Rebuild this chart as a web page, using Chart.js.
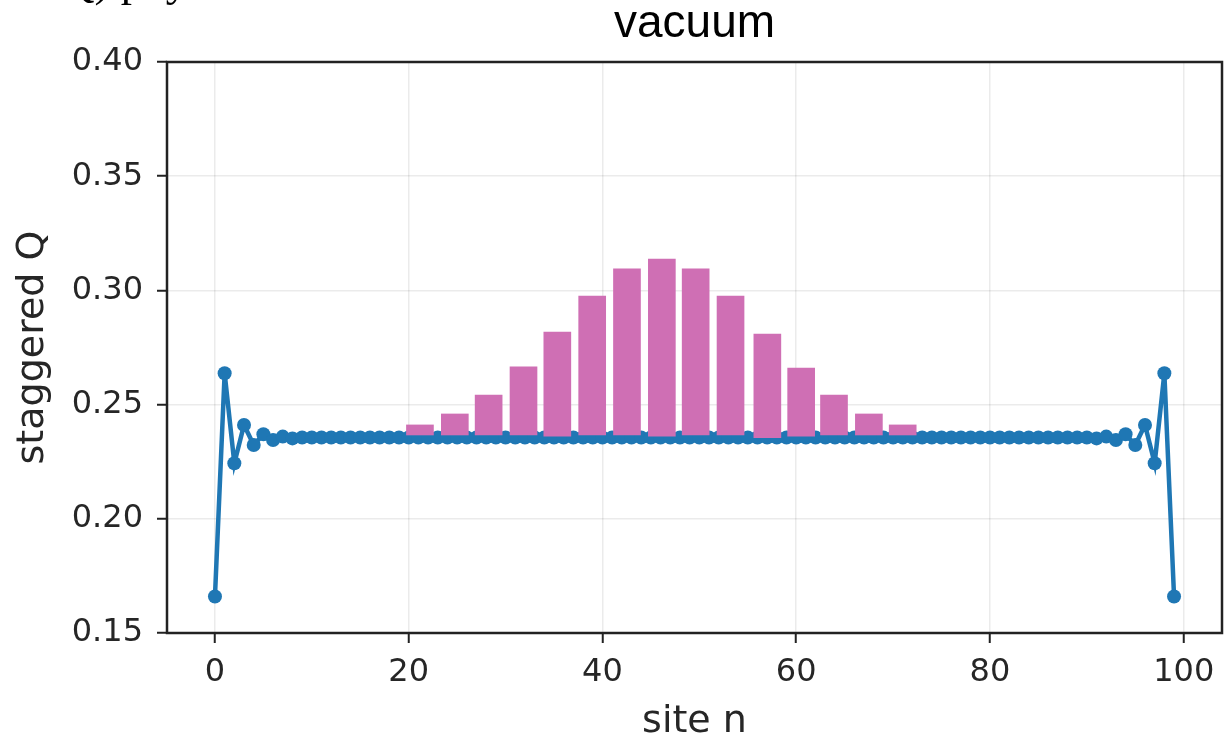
<!DOCTYPE html>
<html>
<head>
<meta charset="utf-8">
<script src="https://cdn.jsdelivr.net/npm/chart.js@4/dist/chart.umd.min.js"></script>
<style>
  html, body { margin: 0; padding: 0; background: #ffffff; }
  #wrap { width: 1229px; height: 737px; position: relative; }
</style>
</head>
<body>
<div id="wrap"><canvas id="c" width="1229" height="737"></canvas></div>
<script>
// staggered charge per lattice site (vacuum state, 100 sites)
const chargeValues = [
  0.1660, 0.2637, 0.2243, 0.2411, 0.2323, 0.2370, 0.2345, 0.2360, 0.2352, 0.2356,
  0.2356, 0.2356, 0.2356, 0.2356, 0.2356, 0.2356, 0.2356, 0.2356, 0.2356, 0.2356,
  0.2356, 0.2356, 0.2356, 0.2356, 0.2356, 0.2356, 0.2356, 0.2356, 0.2356, 0.2356,
  0.2356, 0.2356, 0.2356, 0.2356, 0.2356, 0.2356, 0.2356, 0.2356, 0.2356, 0.2356,
  0.2356, 0.2356, 0.2356, 0.2356, 0.2356, 0.2356, 0.2356, 0.2356, 0.2356, 0.2356,
  0.2356, 0.2356, 0.2356, 0.2356, 0.2356, 0.2356, 0.2356, 0.2356, 0.2356, 0.2356,
  0.2356, 0.2356, 0.2356, 0.2356, 0.2356, 0.2356, 0.2356, 0.2356, 0.2356, 0.2356,
  0.2356, 0.2356, 0.2356, 0.2356, 0.2356, 0.2356, 0.2356, 0.2356, 0.2356, 0.2356,
  0.2356, 0.2356, 0.2356, 0.2356, 0.2356, 0.2356, 0.2356, 0.2356, 0.2356, 0.2356,
  0.2356, 0.2352, 0.2360, 0.2345, 0.2370, 0.2323, 0.2411, 0.2243, 0.2637, 0.1660
];

// excess-charge bars (floating from base to top)
const barSites = [21.16, 24.76, 28.25, 31.85, 35.34, 38.94, 42.53, 46.13,
                  49.62, 53.22, 57.02, 60.51, 63.90, 67.50, 70.99];
const barBase  = [0.2367, 0.2367, 0.2367, 0.2367, 0.2362, 0.2367, 0.2367, 0.2362,
                  0.2367, 0.2367, 0.2355, 0.2362, 0.2367, 0.2367, 0.2367];
const barTop   = [0.2411, 0.2459, 0.2542, 0.2665, 0.2818, 0.2975, 0.3094, 0.3137,
                  0.3094, 0.2975, 0.2809, 0.2660, 0.2542, 0.2459, 0.2411];

const xTicks = [0, 20, 40, 60, 80, 100];
const yTicks = [0.15, 0.20, 0.25, 0.30, 0.35, 0.40];

const titleText = 'vacuum';
const xTitle = 'site n';
const yTitle = 'staggered Q';
const headerFragment = 'Q) phy';

const lineData = chargeValues.map((v, i) => ({ x: i, y: v }));
const barData = barSites.map((s, i) => ({ x: s, y: [barBase[i], barTop[i]] }));

const ink = '#262626';
const tickFont = { family: '"DejaVu Sans", sans-serif', size: 32 };

const gridStyle = {
  offset: false,
  color: 'rgba(0,0,0,0.08)',
  lineWidth: 1.5,
  drawTicks: true,
  tickLength: 10,
  tickColor: '#222222',
  tickWidth: 2
};

const framePlugin = {
  id: 'frame',
  beforeDraw(chart) {
    const ctx = chart.ctx;
    ctx.save();
    ctx.fillStyle = '#ffffff';
    ctx.fillRect(0, 0, chart.width, chart.height);
    ctx.restore();
  },
  afterDatasetsDraw(chart) {
    const { ctx, chartArea: a } = chart;
    ctx.save();
    ctx.strokeStyle = '#222222';
    ctx.lineWidth = 2.5;
    ctx.strokeRect(a.left, a.top, a.right - a.left, a.bottom - a.top);
    ctx.restore();
  },
  afterDraw(chart) {
    // running text of the surrounding page, cut at the top edge
    const ctx = chart.ctx;
    ctx.save();
    ctx.fillStyle = '#000000';
    ctx.font = '45px "Liberation Serif", serif';
    ctx.textBaseline = 'alphabetic';
    ctx.textAlign = 'left';
    ctx.fillText(headerFragment, 62, -4);
    ctx.restore();
  }
};

new Chart(document.getElementById('c'), {
  type: 'line',
  data: {
    datasets: [
      {
        type: 'bar',
        data: barData,
        backgroundColor: '#cf6fb4',
        borderWidth: 0,
        barThickness: 27,
        order: 0
      },
      {
        type: 'line',
        data: lineData,
        borderColor: '#1f77b4',
        backgroundColor: '#1f77b4',
        borderWidth: 4.5,
        pointRadius: 7,
        pointBorderWidth: 0,
        pointBackgroundColor: '#1f77b4',
        tension: 0,
        order: 1
      }
    ]
  },
  options: {
    responsive: false,
    animation: false,
    events: [],
    layout: { padding: { top: 0, right: 2, left: 0, bottom: 0 } },
    plugins: {
      legend: { display: false },
      tooltip: { enabled: false },
      title: {
        display: true,
        text: titleText,
        fullSize: false,
        color: '#000000',
        font: { family: '"Liberation Sans", Arial, sans-serif', size: 46, weight: 'normal', lineHeight: 1 },
        padding: { top: 1, bottom: 15 }
      }
    },
    scales: {
      x: {
        type: 'linear',
        min: -4.95,
        max: 103.95,
        offset: false,
        afterBuildTicks(scale) { scale.ticks = xTicks.map(v => ({ value: v })); },
        afterFit(scale) { scale.height = 104; },
        ticks: {
          color: ink,
          font: tickFont,
          padding: 10,
          maxRotation: 0,
          autoSkip: false,
          callback: v => String(v)
        },
        grid: gridStyle,
        border: { display: false },
        title: {
          display: true,
          text: xTitle,
          color: ink,
          font: { family: '"DejaVu Sans", sans-serif', size: 38, lineHeight: 0.8 },
          padding: { top: 0, bottom: 0 }
        }
      },
      y: {
        type: 'linear',
        min: 0.15,
        max: 0.40,
        afterBuildTicks(scale) { scale.ticks = yTicks.map(v => ({ value: v })); },
        afterFit(scale) { scale.width = 167; },
        ticks: {
          color: ink,
          font: tickFont,
          padding: 14,
          autoSkip: false,
          callback: v => Number(v).toFixed(2)
        },
        grid: gridStyle,
        border: { display: false },
        title: {
          display: true,
          text: yTitle,
          color: ink,
          font: { family: '"DejaVu Sans", sans-serif', size: 38, lineHeight: 0.8 },
          padding: { top: 18, bottom: 0 }
        }
      }
    }
  },
  plugins: [framePlugin]
});
</script>
</body>
</html>
